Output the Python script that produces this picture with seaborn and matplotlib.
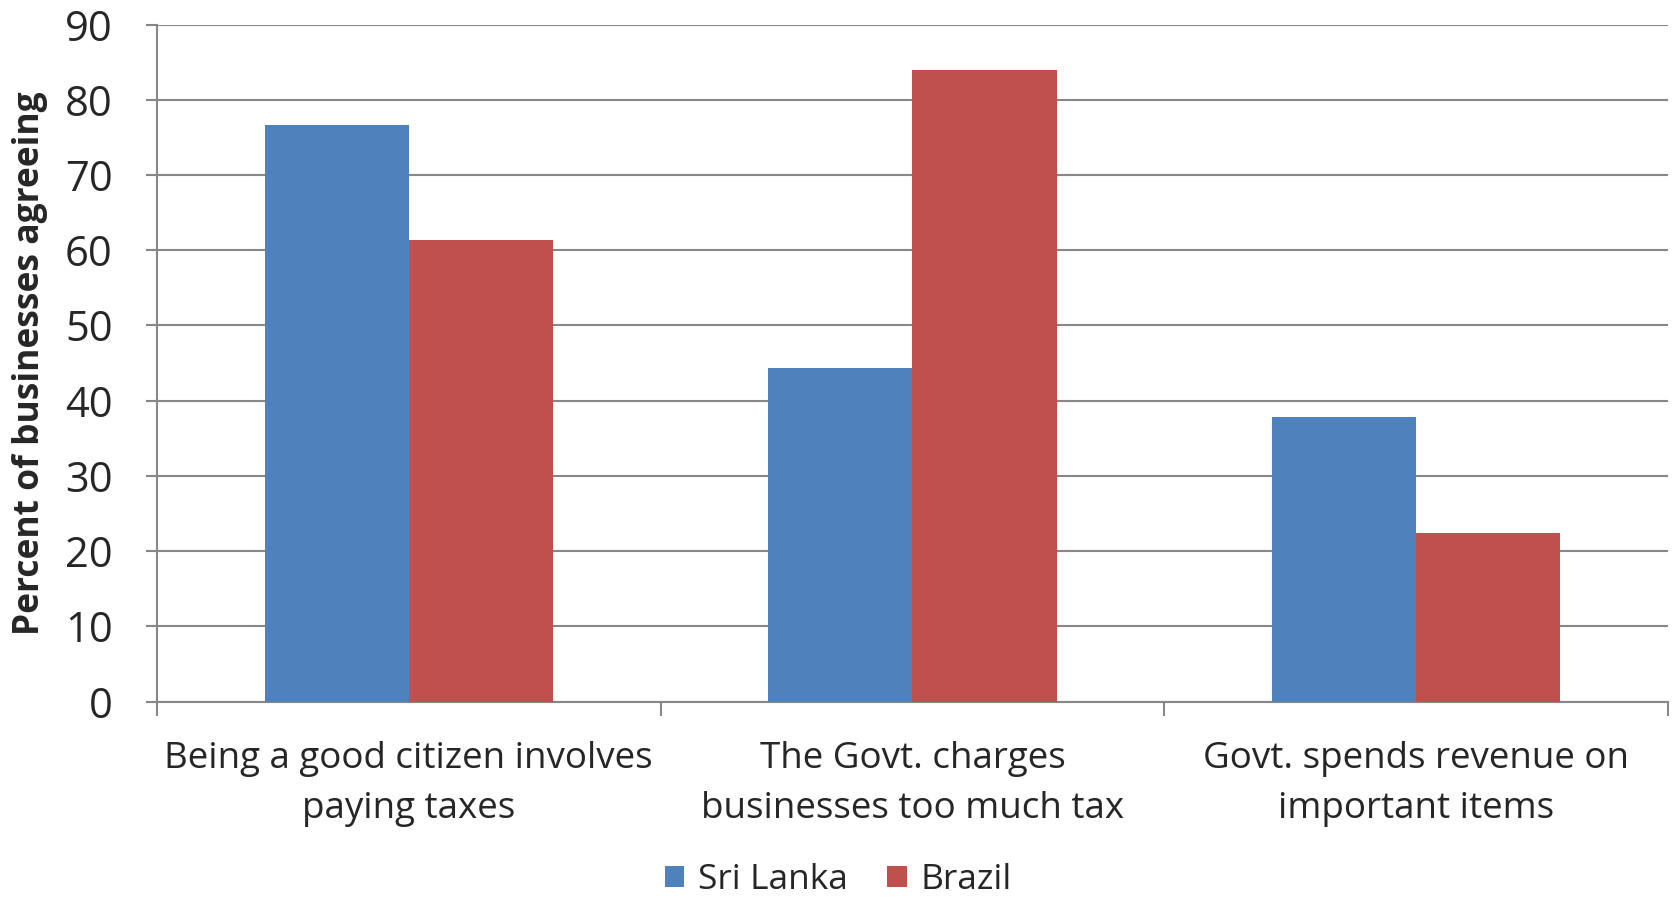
import pandas as pd
import seaborn as sns
import matplotlib
matplotlib.use('Agg')
import matplotlib.pyplot as plt

# values
statements = ['Being a good citizen involves\npaying taxes',
              'The Govt. charges\nbusinesses too much tax',
              'Govt. spends revenue on\nimportant items']
sri_lanka = [76.6, 44.3, 37.8]
brazil = [61.4, 83.9, 22.4]
countries = ['Sri Lanka', 'Brazil']
yticks = [0, 10, 20, 30, 40, 50, 60, 70, 80, 90]

GRID = '#878787'
PALETTE = {'Sri Lanka': '#4F81BD', 'Brazil': '#C0504D'}

data = pd.DataFrame({
    'statement': statements * 2,
    'country': [countries[0]] * 3 + [countries[1]] * 3,
    'percent': sri_lanka + brazil,
})

sns.set_style('white')
plt.rcParams['font.family'] = ['Open Sans', 'DejaVu Sans']

fig = plt.figure(figsize=(16.77, 9), dpi=100)
ax = fig.add_axes([0.0936, 0.2204, 0.9010, 0.7523])

sns.barplot(data=data, x='statement', y='percent', hue='country',
            order=statements, hue_order=countries, palette=PALETTE,
            width=0.572, saturation=1, errorbar=None, linewidth=0,
            ax=ax, zorder=3)

ax.set_xlim(-0.5, 2.5)
ax.set_ylim(0, 90)
ax.set_yticks(yticks)
ax.yaxis.grid(True, color=GRID, linewidth=1.5, zorder=0)
ax.set_axisbelow(True)

for side in ('top', 'right'):
    ax.spines[side].set_visible(False)
for side in ('left', 'bottom'):
    ax.spines[side].set_color(GRID)
    ax.spines[side].set_linewidth(1.5)

ax.tick_params(axis='y', labelsize=30, length=8, width=1.5, color=GRID, pad=24, left=True)
ax.tick_params(axis='x', which='major', labelsize=26.5, length=0, pad=28)
ax.set_xticks([-0.5, 0.5, 1.5, 2.5], minor=True)
ax.tick_params(axis='x', which='minor', length=10, width=1.5, color=GRID, bottom=True)
for lbl in ax.get_xticklabels():
    lbl.set_linespacing(1.52)

ax.set_xlabel('')
ax.set_ylabel('Percent of businesses agreeing', fontsize=25.5, fontweight='bold')
ax.yaxis.set_label_coords(-0.072, 0.5)

ax.legend(loc='center', bbox_to_anchor=(0.5, 0.022), bbox_transform=fig.transFigure,
          ncol=2, frameon=False, fontsize=25.5, handlelength=0.55, handleheight=0.55,
          handletextpad=0.4, columnspacing=1.1, borderpad=0.1)

fig.savefig('out.png', dpi=100)
